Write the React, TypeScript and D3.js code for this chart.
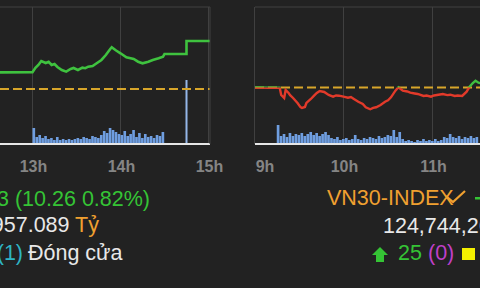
import React from 'react';
import * as d3 from 'd3';

// ---------- Left panel (VN-Index, afternoon session) ----------
const leftTimes = [
  '11:30', '13:00', '13:02', '13:04', '13:06', '13:09', '13:11', '13:13', '13:15', '13:17', '13:20',
  '13:23', '13:26', '13:28', '13:31', '13:34', '13:36', '13:38', '13:41', '13:44', '13:47',
  '13:50', '13:53', '13:54', '13:57', '14:00', '14:04', '14:09', '14:12', '14:15', '14:19',
  '14:22', '14:26', '14:29', '14:30', '14:45', '14:45', '15:02',
];
const leftValues = [
  1254.85, 1254.95, 1255.9, 1256.5, 1257.35, 1256.93, 1257.2, 1256.5, 1256.7, 1256.07, 1255.43,
  1255.07, 1255.64, 1255.86, 1255.43, 1255.92, 1255.8, 1256.13, 1256.28, 1256.93, 1257.57,
  1258.63, 1259.92, 1260.28, 1259.6, 1259.0, 1258.14, 1257.78, 1257.2, 1256.86, 1257.2,
  1257.57, 1257.93, 1258.27, 1258.85, 1258.85, 1261.63, 1261.63,
];
const leftRef = 1251.37;
const leftVolStart = '13:00';
const leftVolumes = [
  15, 6, 8, 5, 7, 4, 5, 3, 6, 3, 4, 3, 4, 3, 4, 5, 4, 6, 5, 4, 7, 6, 5, 8, 12, 10, 15, 13, 11, 9,
  8, 12, 7, 9, 13, 6, 10, 5, 9, 6, 7, 5, 8, 7, 11,
];
const leftAtcTime = '14:45';
const leftAtcVolume = 63;
const leftTicks = ['13h', '14h', '15h'];
const leftTickHours = [13, 14, 15];

// ---------- Right panel (VN30-Index, morning session) ----------
const rightTimes = [
  '9:00', '9:10', '9:17', '9:18', '9:20', '9:21', '9:23', '9:24', '9:26', '9:29', '9:31', '9:32',
  '9:34', '9:35', '9:38', '9:40', '9:42', '9:44', '9:47', '9:50', '9:53', '9:55', '9:57', '10:00',
  '10:03', '10:05', '10:07', '10:10', '10:13', '10:15', '10:18', '10:20', '10:22', '10:25', '10:28',
  '10:30', '10:32', '10:35', '10:37', '10:40', '10:43', '10:45', '10:48', '10:50', '10:54', '10:56',
  '10:59', '11:01', '11:03', '11:05', '11:07', '11:10', '11:12', '11:15', '11:17', '11:20', '11:23',
  '11:25', '11:27', '11:29', '11:31', '11:33',
];
const rightValues = [
  1300.5, 1300.45, 1300.45, 1298.63, 1297.88, 1299.88, 1299.13, 1298.6, 1297.88, 1296.63, 1295.6,
  1295.38, 1295.63, 1296.63, 1297.63, 1298.4, 1299.13, 1299.63, 1299.38, 1298.63, 1298.2, 1298.5,
  1298.45, 1298.2, 1297.95, 1298.1, 1297.63, 1296.95, 1296.38, 1295.55, 1295.05, 1295.4, 1295.55,
  1296.13, 1296.95, 1297.3, 1298.05, 1299.7, 1300.55, 1299.7, 1299.5, 1299.2, 1299.0, 1298.88,
  1298.38, 1298.5, 1298.2, 1298.5, 1298.63, 1298.75, 1298.88, 1298.6, 1298.7, 1298.38, 1298.5,
  1298.38, 1299.45, 1300.7, 1301.55, 1302.2, 1301.7, 1301.55,
];
const rightRef = 1300.5;
const rightVolStart = '9:15';
const rightVolumes = [
  18, 7, 9, 6, 10, 7, 9, 8, 10, 7, 9, 11, 8, 10, 7, 9, 11, 8, 5, 4, 6, 3, 4, 5, 3, 4, 8, 4, 3, 5,
  4, 6, 5, 4, 7, 5, 6, 8, 7, 13, 6, 11, 4, 2, 3, 2, 1, 3, 2, 4, 2, 3, 2, 4, 2, 3, 6, 5, 9, 6, 5,
  7, 4, 6, 5, 7, 5, 6,
];
const rightTicks = ['9h', '10h', '11h'];
const rightTickHours = [9, 10, 11];

// ---------- Text ----------
const leftCloseText = '1261.63 (10.26 0.82%)';
const leftValueText = '12,957.089';
const leftUnitText = ' Tỷ';
const leftCountText = '(1)';
const leftStatusText = 'Đóng cửa';
const rightNameText = 'VN30-INDEX';
const rightValueText = '124,744,265';
const rightUpText = '25';
const rightFlatText = '(0)';

const parseT = (s: string) => {
  const [h, m] = s.split(':').map(Number);
  return h + m / 60;
};

const BG = '#222222';
const FONT = '"Liberation Sans", Arial, sans-serif';

function Panel({ x0, x1, domainX, rangeX, yDomain, times, values, refV, volStart, volumes, ticks, tickHours, id, atc, twoColor, lineColor }: any) {
  const top = 7;
  const bottom = 144;
  const xs = d3.scaleLinear().domain(domainX).range(rangeX);
  const ys = d3.scaleLinear().domain(yDomain).range([143, 7]);
  const vs = d3.scaleLinear().domain([0, 136]).range([143, 7]);
  const pts = times.map((t: string, i: number) => [parseT(t), values[i]]);
  const line = d3.line<any>().x((d) => xs(d[0])).y((d) => ys(d[1]));
  const path = line(pts) || '';
  const refY = ys(refV);
  const vStart = parseT(volStart);
  const step = 2 / 60;
  const bw = xs(vStart + step) - xs(vStart);
  return (
    <g>
      <defs>
        <clipPath id={id + 'c'}>
          <rect x={x0} y={top} width={x1 - x0} height={bottom - top} />
        </clipPath>
        <clipPath id={id + 'up'}>
          <rect x={x0} y={top - 5} width={x1 - x0} height={refY - top + 5} />
        </clipPath>
        <clipPath id={id + 'dn'}>
          <rect x={x0} y={refY} width={x1 - x0} height={bottom - refY} />
        </clipPath>
      </defs>
      <line x1={x0} x2={x1} y1={top} y2={top} stroke="#404040" strokeWidth={1} />
      {tickHours.map((h: number, i: number) => (
        <line key={i} x1={xs(h)} x2={xs(h)} y1={top} y2={bottom} stroke="#404040" strokeWidth={1} />
      ))}
      <g clipPath={`url(#${id}c)`}>
        {volumes.map((v: number, i: number) => {
          const t = vStart + i * step;
          return <rect key={i} x={xs(t)} y={vs(v)} width={bw - 0.3} height={143 - vs(v)} fill="#6f9ee0" />;
        })}
        {atc && (
          <rect x={xs(parseT(atc.time)) - 1} y={vs(atc.v)} width={2} height={143 - vs(atc.v)} fill="#94b6e8" />
        )}
        <line x1={x0} x2={x1} y1={refY} y2={refY} stroke="#d8a62a" strokeWidth={2} strokeDasharray="9,4" />
        {twoColor ? (
          <g>
            <path d={path} fill="none" stroke="#40c040" strokeWidth={2.4} clipPath={`url(#${id}up)`} />
            <path d={path} fill="none" stroke="#e23a2a" strokeWidth={2.4} clipPath={`url(#${id}dn)`} />
          </g>
        ) : (
          <path d={path} fill="none" stroke={lineColor} strokeWidth={2.6} />
        )}
      </g>
      <line x1={x0} x2={x1} y1={144} y2={144} stroke="#e6e6e6" strokeWidth={2} />
      {ticks.map((t: string, i: number) => (
        <text key={i} x={Math.max(xs(tickHours[i]) + 1, x0 + 10)} y={172} textAnchor="middle" fontFamily={FONT} fontSize={16} fontWeight="bold" fill="#858585">
          {t}
        </text>
      ))}
    </g>
  );
}

export default function App() {
  return (
    <svg width={480} height={288} style={{ position: 'absolute', left: 0, top: 0, background: BG }}>
      <rect x={0} y={0} width={480} height={288} fill={BG} />
      <Panel
        id="L"
        x0={0}
        x1={210}
        domainX={[13, 15]}
        rangeX={[32.5, 208.5]}
        yDomain={[1239.83, 1268.89]}
        times={leftTimes}
        values={leftValues}
        refV={leftRef}
        volStart={leftVolStart}
        volumes={leftVolumes}
        ticks={leftTicks}
        tickHours={leftTickHours}
        atc={{ time: leftAtcTime, v: leftAtcVolume }}
        lineColor="#3fc23f"
      />
      <line x1={210} x2={210} y1={7} y2={144} stroke="#404040" />
      <Panel
        id="R"
        x0={255}
        x1={480}
        domainX={[9, 11]}
        rangeX={[254.5, 432.5]}
        yDomain={[1286.625, 1320.625]}
        times={rightTimes}
        values={rightValues}
        refV={rightRef}
        volStart={rightVolStart}
        volumes={rightVolumes}
        ticks={rightTicks}
        tickHours={rightTickHours}
        twoColor
      />
      <g fontFamily={FONT} fontSize={21.5}>
        <text x={150} y={206} textAnchor="end" fill="#35c435">{leftCloseText}</text>
        <text x={99} y={232} textAnchor="end" fill="#e8e8e8">
          {leftValueText}
          <tspan fill="#f0a030">{leftUnitText}</tspan>
        </text>
        <text x={23} y={260} textAnchor="end" fill="#2fb5c4">{leftCountText}</text>
        <text x={28} y={260} fill="#e8e8e8">{leftStatusText}</text>
      </g>
      <g fontFamily={FONT} fontSize={21.5}>
        <text x={327} y={205} fill="#f0a030">{rightNameText}</text>
        <path d="M446,196 L453,202 L465,191" fill="none" stroke="#f0a030" strokeWidth={2.2} />
        <rect x={475} y={197} width={6} height={2.5} fill="#35c435" />
        <text x={383} y={233} fill="#e8e8e8">{rightValueText}</text>
        <path d="M380,247 L388,255 L384,255 L384,262 L376,262 L376,255 L372,255 Z" fill="#35c435" />
        <text x={398} y={260} fill="#35c435">{rightUpText}</text>
        <text x={428} y={260} fill="#c040c8">{rightFlatText}</text>
        <rect x={462} y={248} width={13} height={12} fill="#f4f000" />
      </g>
    </svg>
  );
}
